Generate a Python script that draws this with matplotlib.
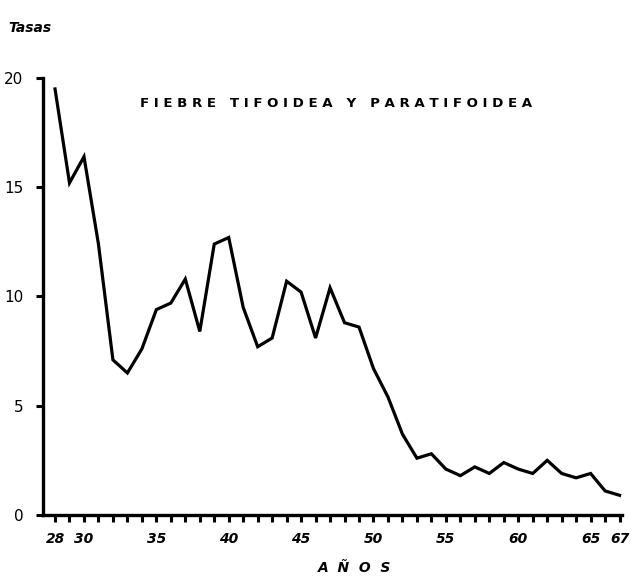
import matplotlib.pyplot as plt

# Tasas de fiebre tifoidea y paratifoidea, 1928-1967
anios = list(range(1928, 1968))
tasas = [19.5, 15.2, 16.4, 12.4, 7.1, 6.5, 7.6, 9.4, 9.7, 10.8,
         8.4, 12.4, 12.7, 9.5, 7.7, 8.1, 10.7, 10.2, 8.1, 10.4,
         8.8, 8.6, 6.7, 5.4, 3.7, 2.6, 2.8, 2.1, 1.8, 2.2,
         1.9, 2.4, 2.1, 1.9, 2.5, 1.9, 1.7, 1.9, 1.1, 0.9]

x_etiquetas = [1928, 1930, 1935, 1940, 1945, 1950, 1955, 1960, 1965, 1967]
y_ticks = [0, 5, 10, 15, 20]

fig = plt.figure(figsize=(6.39, 5.84), dpi=100)
ax = fig.add_axes([0.0673, 0.1182, 0.9057, 0.7482])

ax.plot(anios, tasas, color='black', lw=2.3, solid_joinstyle='miter')

ax.set_xlim(1927.17, 1967.15)
ax.set_ylim(0, 20)

for s in ['top', 'right']:
    ax.spines[s].set_visible(False)
for s in ['left', 'bottom']:
    ax.spines[s].set_linewidth(2.4)

ax.set_xticks(anios, minor=True)
ax.set_xticks(x_etiquetas)
ax.set_xticklabels([str(a)[2:] for a in x_etiquetas],
                   fontstyle='italic', fontweight='bold', fontsize=10)
ax.tick_params(axis='x', which='both', direction='out', length=5, width=2.2, pad=7)
ax.set_yticks(y_ticks)
ax.set_yticklabels([str(v) for v in y_ticks], fontsize=11)
ax.tick_params(axis='y', direction='out', length=5, width=2.2, pad=9)

fig.text(0.013, 0.945, 'Tasas', fontstyle='italic', fontweight='bold', fontsize=10)
fig.text(0.526, 0.823, 'F I E B R E   T I F O I D E A   Y   P A R A T I F O I D E A',
         ha='center', va='center', fontweight='bold', fontsize=9.6)
fig.text(0.555, 0.028, 'A  Ñ  O  S', ha='center', va='center',
         fontstyle='italic', fontweight='bold', fontsize=10)

fig.savefig('out.png', dpi=100)
